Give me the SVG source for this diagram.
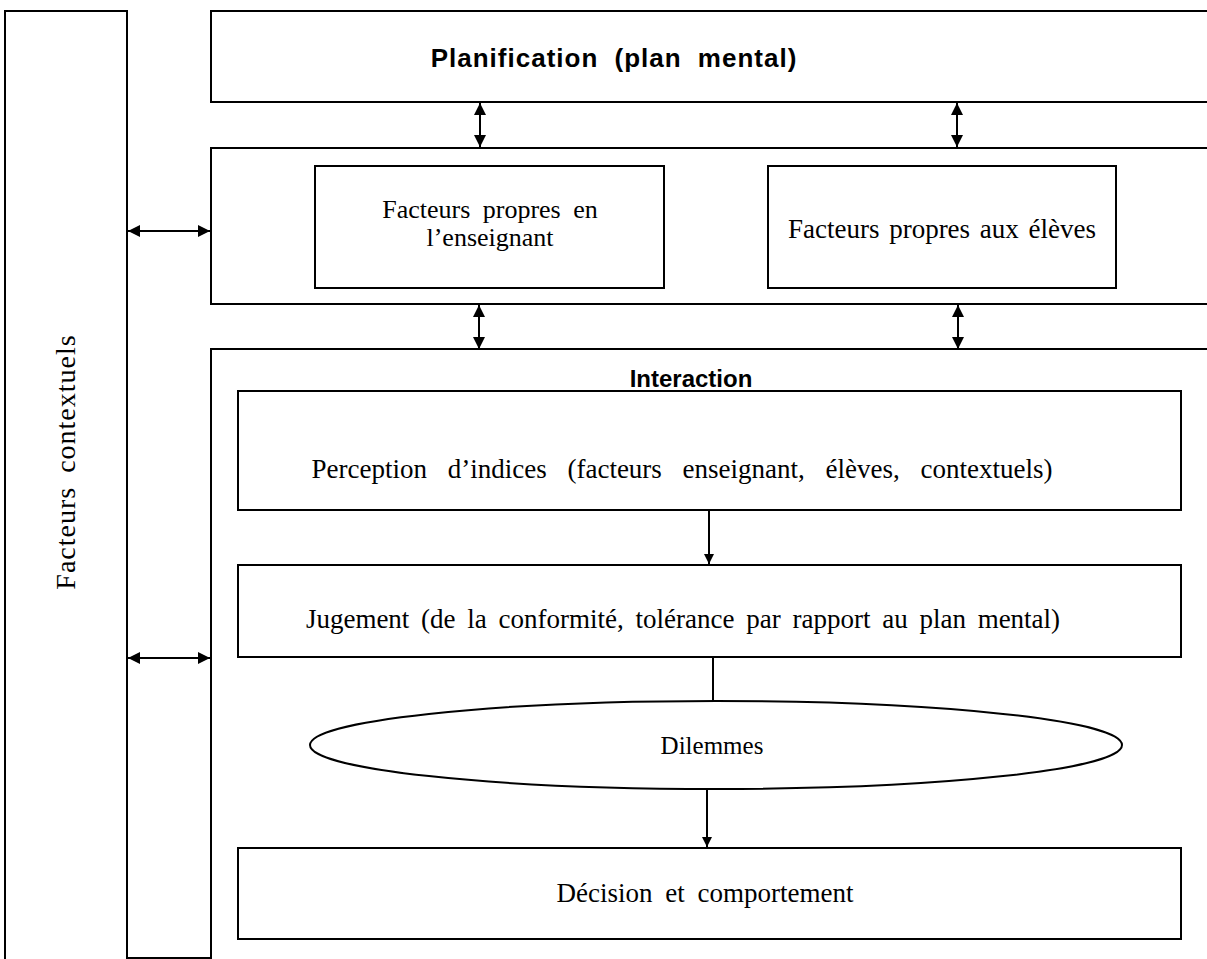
<svg xmlns="http://www.w3.org/2000/svg" width="1207" height="959" viewBox="0 0 1207 959">
<style>
.b{fill:none;stroke:#000;stroke-width:2}
.t{font-family:"Liberation Serif","Times New Roman",serif;font-size:27px;fill:#000;text-anchor:middle}
.h{font-family:"Liberation Sans",Arial,sans-serif;font-size:24px;font-weight:bold;fill:#000;text-anchor:middle}
.c{stroke:#000;stroke-width:2;fill:none}
</style>
<defs>
<marker id="ah" viewBox="0 0 10 10" refX="10" refY="5" markerWidth="13" markerHeight="12" markerUnits="userSpaceOnUse" orient="auto-start-reverse">
<path d="M0,0L10,5L0,10z" fill="#000"/>
</marker>
<marker id="af" viewBox="0 0 10 10" refX="10" refY="5" markerWidth="12" markerHeight="10" markerUnits="userSpaceOnUse" orient="auto">
<path d="M0,0L10,5L0,10z" fill="#000"/>
</marker>
</defs>
<rect width="1207" height="959" fill="#fff"/>
<g id="contextuels">
<path class="b" d="M5,965V11H127V958H211V349"/>
<text class="t" transform="translate(75,462) rotate(-90)" style="font-size:28px;letter-spacing:1px;word-spacing:6px">Facteurs contextuels</text>
</g>
<g id="planification">
<path class="b" d="M1210,11H211V102H1210"/>
<text class="h" x="614" y="67" style="font-size:26px;letter-spacing:1px;word-spacing:8px">Planification (plan mental)</text>
</g>
<g id="facteurs">
<path class="b" d="M1210,148H211V304H1210"/>
</g>
<g id="enseignant">
<rect class="b" x="315" y="166" width="349" height="122"/>
<text class="t" x="490" y="218" style="font-size:26px;word-spacing:6px">Facteurs propres en</text>
<text class="t" x="490" y="246" style="font-size:26px">l’enseignant</text>
</g>
<g id="eleves">
<rect class="b" x="768" y="166" width="348" height="122"/>
<text class="t" x="942" y="238" style="word-spacing:3px">Facteurs propres aux élèves</text>
</g>
<g id="interaction">
<path class="b" d="M1210,349H211V958"/>
<text class="h" x="691" y="387">Interaction</text>
</g>
<g id="perception">
<rect class="b" x="238" y="391" width="943" height="119"/>
<text class="t" x="682" y="478" style="word-spacing:14px">Perception d’indices (facteurs enseignant, élèves, contextuels)</text>
</g>
<g id="jugement">
<rect class="b" x="238" y="565" width="943" height="92"/>
<text class="t" x="683" y="628" style="word-spacing:5px">Jugement (de la conformité, tolérance par rapport au plan mental)</text>
</g>
<g id="dilemmes">
<ellipse class="b" cx="716" cy="745" rx="406" ry="44"/>
<text class="t" x="712" y="754" style="font-size:25px">Dilemmes</text>
</g>
<g id="decision">
<rect class="b" x="238" y="848" width="943" height="91"/>
<text class="t" x="705" y="902" style="word-spacing:6px">Décision et comportement</text>
</g>
<g id="connectors">
<line class="c" x1="480" y1="103" x2="480" y2="147" marker-start="url(#ah)" marker-end="url(#ah)"/>
<line class="c" x1="957" y1="103" x2="957" y2="147" marker-start="url(#ah)" marker-end="url(#ah)"/>
<line class="c" x1="479" y1="305" x2="479" y2="349" marker-start="url(#ah)" marker-end="url(#ah)"/>
<line class="c" x1="958" y1="305" x2="958" y2="349" marker-start="url(#ah)" marker-end="url(#ah)"/>
<line class="c" x1="128" y1="231" x2="210" y2="231" marker-start="url(#ah)" marker-end="url(#ah)"/>
<line class="c" x1="128" y1="658" x2="210" y2="658" marker-start="url(#ah)" marker-end="url(#ah)"/>
<line class="c" x1="709" y1="510" x2="709" y2="564" marker-end="url(#af)"/>
<line class="c" x1="713" y1="657" x2="713" y2="701"/>
<line class="c" x1="707" y1="789" x2="707" y2="847" marker-end="url(#af)"/>
</g>
</svg>
